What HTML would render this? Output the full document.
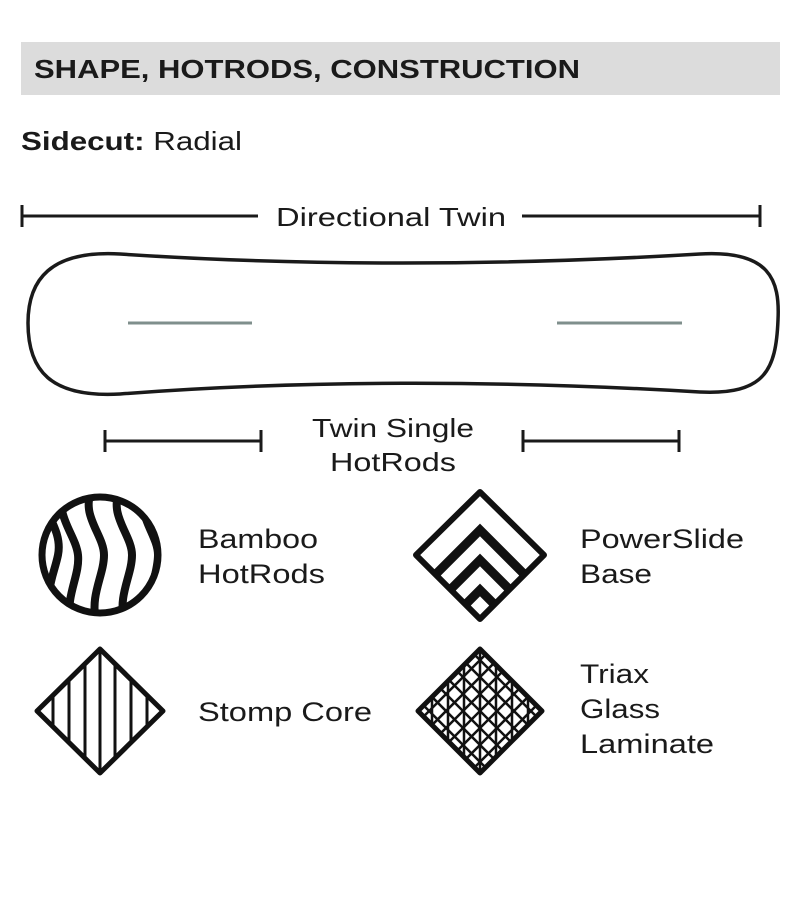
<!DOCTYPE html>
<html><head><style>
body{margin:0;background:#fff;width:800px;height:905px;overflow:hidden}
svg{display:block}
text{font-family:"Liberation Sans",sans-serif;fill:#1a1a1a}
</style></head><body>
<svg width="800" height="905" viewBox="0 0 800 905">
<defs>
<clipPath id="cc"><circle cx="100" cy="555" r="55"/></clipPath>
<clipPath id="ds"><polygon points="100,649 163,711 100,773 37,711"/></clipPath>
<clipPath id="dt"><polygon points="480,649 542,711 480,773 418,711"/></clipPath>
<clipPath id="dp"><polygon points="480,492 544,555 480,619 416,555"/></clipPath>
</defs>
<rect x="21" y="42" width="759" height="53" fill="#dcdcdc"/>
<text x="34" y="78" font-size="26" font-weight="bold" textLength="546" lengthAdjust="spacingAndGlyphs">SHAPE, HOTRODS, CONSTRUCTION</text>
<text x="21" y="150" font-size="26" textLength="221" lengthAdjust="spacingAndGlyphs"><tspan font-weight="bold">Sidecut:</tspan> Radial</text>
<g stroke="#1a1a1a" stroke-width="3" fill="none">
<line x1="22" y1="216" x2="258" y2="216"/><line x1="522" y1="216" x2="760" y2="216"/>
<line x1="22" y1="205" x2="22" y2="227"/><line x1="760" y1="205" x2="760" y2="227"/>
<path d="M120,254 C300,266 500,266 700,254 C770,250 780,280 778,320 C776,370 765,395 700,392 C500,380 300,380 120,394 C50,398 28,370 28,323 C28,280 50,250 120,254 Z" stroke-width="3.5"/>
<line x1="105" y1="441" x2="261" y2="441"/><line x1="523" y1="441" x2="679" y2="441"/>
<line x1="105" y1="430" x2="105" y2="452"/><line x1="261" y1="430" x2="261" y2="452"/>
<line x1="523" y1="430" x2="523" y2="452"/><line x1="679" y1="430" x2="679" y2="452"/>
</g>
<g stroke="#7f8f8c" stroke-width="3">
<line x1="128" y1="323" x2="252" y2="323"/><line x1="557" y1="323" x2="682" y2="323"/>
</g>
<text x="276" y="226" font-size="26" textLength="230" lengthAdjust="spacingAndGlyphs">Directional Twin</text>
<text x="312" y="437" font-size="26" textLength="162" lengthAdjust="spacingAndGlyphs">Twin Single</text>
<text x="330" y="471" font-size="26" textLength="126" lengthAdjust="spacingAndGlyphs">HotRods</text>
<!-- bamboo -->
<g clip-path="url(#cc)" stroke="#111" stroke-width="8" fill="none">
<path d="M40,495 C50,520 62,535 58,555 C54,575 44,590 52,620"/>
<path d="M64,490 C54,515 76,535 78,555 C80,575 66,595 70,620"/>
<path d="M92,490 C80,515 104,535 104,555 C104,575 90,595 96,620"/>
<path d="M120,490 C108,515 132,535 132,555 C132,575 118,595 124,620"/>
<path d="M146,495 C136,515 158,535 158,555 C158,575 146,595 150,620"/>
</g>
<circle cx="100" cy="555" r="58" fill="none" stroke="#111" stroke-width="7"/>
<!-- powerslide -->
<g clip-path="url(#dp)" stroke="#111" stroke-width="9" fill="none">
<polyline points="420,590 480,530 540,590"/>
<polyline points="430,610 480,560 530,610"/>
<polyline points="440,630 480,590 520,630"/>
</g>
<polygon points="480,492 544,555 480,619 416,555" fill="none" stroke="#111" stroke-width="6" stroke-linejoin="round"/>
<!-- stomp -->
<g clip-path="url(#ds)" stroke="#111" stroke-width="3">
<line x1="53" y1="640" x2="53" y2="780"/><line x1="69" y1="640" x2="69" y2="780"/>
<line x1="85" y1="640" x2="85" y2="780"/><line x1="100" y1="640" x2="100" y2="780"/>
<line x1="115" y1="640" x2="115" y2="780"/><line x1="131" y1="640" x2="131" y2="780"/>
<line x1="147" y1="640" x2="147" y2="780"/>
</g>
<polygon points="100,649 163,711 100,773 37,711" fill="none" stroke="#111" stroke-width="5" stroke-linejoin="round"/>
<!-- triax -->
<g clip-path="url(#dt)" stroke="#111" stroke-width="2.5">
<line x1="432" y1="640" x2="432" y2="780"/><line x1="448" y1="640" x2="448" y2="780"/>
<line x1="464" y1="640" x2="464" y2="780"/><line x1="480" y1="640" x2="480" y2="780"/>
<line x1="496" y1="640" x2="496" y2="780"/><line x1="512" y1="640" x2="512" y2="780"/>
<line x1="528" y1="640" x2="528" y2="780"/>
<g transform="rotate(45 480 711)"><line x1="380" y1="663" x2="580" y2="663"/><line x1="380" y1="675" x2="580" y2="675"/><line x1="380" y1="687" x2="580" y2="687"/><line x1="380" y1="699" x2="580" y2="699"/><line x1="380" y1="711" x2="580" y2="711"/><line x1="380" y1="723" x2="580" y2="723"/><line x1="380" y1="735" x2="580" y2="735"/><line x1="380" y1="747" x2="580" y2="747"/><line x1="380" y1="759" x2="580" y2="759"/></g>
<g transform="rotate(-45 480 711)"><line x1="380" y1="663" x2="580" y2="663"/><line x1="380" y1="675" x2="580" y2="675"/><line x1="380" y1="687" x2="580" y2="687"/><line x1="380" y1="699" x2="580" y2="699"/><line x1="380" y1="711" x2="580" y2="711"/><line x1="380" y1="723" x2="580" y2="723"/><line x1="380" y1="735" x2="580" y2="735"/><line x1="380" y1="747" x2="580" y2="747"/><line x1="380" y1="759" x2="580" y2="759"/></g>
</g>
<polygon points="480,649 542,711 480,773 418,711" fill="none" stroke="#111" stroke-width="5" stroke-linejoin="round"/>
<g font-size="27">
<text x="198" y="548" textLength="120" lengthAdjust="spacingAndGlyphs">Bamboo</text><text x="198" y="583" textLength="127" lengthAdjust="spacingAndGlyphs">HotRods</text>
<text x="580" y="548" textLength="164" lengthAdjust="spacingAndGlyphs">PowerSlide</text><text x="580" y="583" textLength="72" lengthAdjust="spacingAndGlyphs">Base</text>
<text x="198" y="721" textLength="174" lengthAdjust="spacingAndGlyphs">Stomp Core</text>
<text x="580" y="683" textLength="69" lengthAdjust="spacingAndGlyphs">Triax</text><text x="580" y="718" textLength="80" lengthAdjust="spacingAndGlyphs">Glass</text><text x="580" y="753" textLength="134" lengthAdjust="spacingAndGlyphs">Laminate</text>
</g>
</svg>
</body></html>
